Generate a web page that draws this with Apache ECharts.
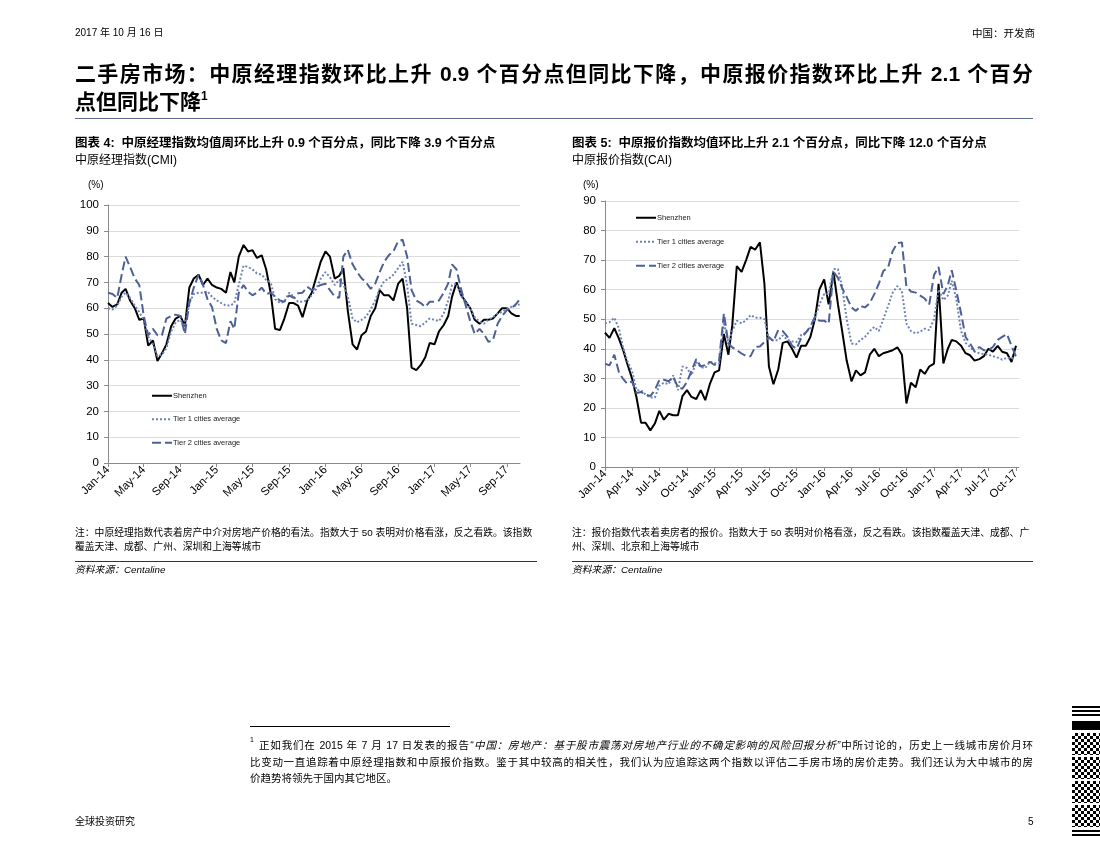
<!DOCTYPE html>
<html><head><meta charset="utf-8">
<script src="https://cdn.jsdelivr.net/npm/echarts@6/dist/echarts.min.js"></script>
<style>
body{margin:0;background:#fff;}
#page{position:relative;width:1100px;height:850px;overflow:hidden;font-family:"Liberation Sans",Arial,"Noto Sans CJK SC",sans-serif;color:#000;}
#chart{position:absolute;left:0;top:0;width:1100px;height:850px;}
.t{position:absolute;white-space:nowrap;line-height:1;}
.j{text-align:justify;text-align-last:justify;}
.b{font-weight:bold;}
.hr{position:absolute;height:1px;}
.qr{position:absolute;left:1072px;width:28px;background:repeating-conic-gradient(#000 0 25%,#fff 0 50%) 0 0/6px 6px;}
</style></head><body><div id="page">
<div id="chart"></div>

<div class="t" style="left:75px;top:28px;font-size:10px;">2017 年 10 月 16 日</div>
<div class="t" style="right:65px;top:28px;font-size:10.5px;">中国：开发商</div>

<div class="t b j" style="left:75px;top:63px;width:958px;font-size:21px;">二手房市场：中原经理指数环比上升 0.9 个百分点但同比下降，中原报价指数环比上升 2.1 个百分</div>
<div class="t b" style="left:75px;top:91px;font-size:21px;">点但同比下降<sup style="font-size:12px;vertical-align:9px;line-height:0;">1</sup></div>
<div class="hr" style="left:75px;top:118px;width:958px;background:#5c6a8c;"></div>

<div class="t b" style="left:75px;top:137px;font-size:12.5px;">图表 4:&nbsp; 中原经理指数均值周环比上升 0.9 个百分点，同比下降 3.9 个百分点</div>
<div class="t" style="left:75px;top:154px;font-size:12px;">中原经理指数(CMI)</div>
<div class="t" style="left:88px;top:180px;font-size:10px;">(%)</div>

<div class="t b" style="left:572px;top:137px;font-size:12.5px;">图表 5:&nbsp; 中原报价指数均值环比上升 2.1 个百分点，同比下降 12.0 个百分点</div>
<div class="t" style="left:572px;top:154px;font-size:12px;">中原报价指数(CAI)</div>
<div class="t" style="left:583px;top:180px;font-size:10px;">(%)</div>

<div class="t j" style="left:75px;top:528px;width:457px;font-size:9.8px;">注：中原经理指数代表着房产中介对房地产价格的看法。指数大于 50 表明对价格看涨，反之看跌。该指数</div>
<div class="t" style="left:75px;top:542px;font-size:9.8px;">覆盖天津、成都、广州、深圳和上海等城市</div>
<div class="hr" style="left:75px;top:561px;width:462px;background:#333;"></div>
<div class="t" style="left:75px;top:565px;font-size:9.8px;font-style:italic;">资料来源：Centaline</div>

<div class="t j" style="left:572px;top:528px;width:455px;font-size:9.8px;">注：报价指数代表着卖房者的报价。指数大于 50 表明对价格看涨，反之看跌。该指数覆盖天津、成都、广</div>
<div class="t" style="left:572px;top:542px;font-size:9.8px;">州、深圳、北京和上海等城市</div>
<div class="hr" style="left:572px;top:561px;width:461px;background:#333;"></div>
<div class="t" style="left:572px;top:565px;font-size:9.8px;font-style:italic;">资料来源：Centaline</div>

<div class="hr" style="left:250px;top:726px;width:200px;background:#000;"></div>
<div class="t" style="left:250px;top:736px;font-size:7px;">1</div>
<div class="t j" style="left:259px;top:740px;width:774px;font-size:10.5px;">正如我们在 2015 年 7 月 17 日发表的报告<i>“中国：房地产：基于股市震荡对房地产行业的不确定影响的风险回报分析”</i>中所讨论的，历史上一线城市房价月环</div>
<div class="t j" style="left:250px;top:757px;width:783px;font-size:10.5px;">比变动一直追踪着中原经理指数和中原报价指数。鉴于其中较高的相关性，我们认为应追踪这两个指数以评估二手房市场的房价走势。我们还认为大中城市的房</div>
<div class="t" style="left:250px;top:773px;font-size:10.5px;">价趋势将领先于国内其它地区。</div>

<div class="t" style="left:75px;top:817px;font-size:10px;">全球投资研究</div>
<div class="t" style="left:1028px;top:817px;font-size:10px;">5</div>

<div class="hr" style="left:1072px;top:706px;width:28px;height:2px;background:#000;"></div>
<div class="hr" style="left:1072px;top:710px;width:28px;height:2px;background:#000;"></div>
<div class="hr" style="left:1072px;top:714px;width:28px;height:2px;background:#000;"></div>
<div class="hr" style="left:1072px;top:721px;width:28px;height:9px;background:#000;"></div>
<div class="qr" style="top:733px;height:22px;"></div>
<div class="qr" style="top:757px;height:22px;background-position:3px 0;"></div>
<div class="qr" style="top:781px;height:22px;"></div>
<div class="qr" style="top:805px;height:22px;background-position:3px 3px;"></div>
<div class="hr" style="left:1072px;top:830px;width:28px;height:2px;background:#000;"></div>
<div class="hr" style="left:1072px;top:834px;width:28px;height:2px;background:#000;"></div>
</div>
<script>
// ---------- DATA ----------
const seriesNames = ['Shenzhen', 'Tier 1 cities average', 'Tier 2 cities average'];

// CMI (left chart): semi-monthly readings, Jan-2014 .. mid-Oct-2017
const cmiShenzhen = [62,60.5,61.5,66,67.5,63,60,55.5,56,45.5,
  47.5,39.5,42.5,46,53,56,57,53,68,71.5,
  73,69,71.5,69,68,67.5,66,74,70,80,
  84.5,82,82.5,79.5,80.5,75,66,52,51.5,56,
  62,62,61,56.5,63,66,72,78,82,80,
  71.5,72.5,75.5,59,46,44,49.5,51,57,60,
  67,65,65,63,69.5,71.5,60,37,36,38,
  41,46.5,46,51,53.5,57,64.5,70,65,62.5,
  60,55.5,54,55.5,55.5,56,58,60,60,58,
  57,57];
const cmiTier1 = [60,59.5,61,64.5,66,64,61,58.5,55.5,49,
  46,41.5,42,44.5,51,54.5,55.5,53,62,65.5,
  66,66,66.5,64.5,63,62,61,61,62,69,
  76.5,76,75,73.5,73,71,70,63.5,62,62.5,
  66,64.5,62.5,62.5,63,65,67.5,71.5,74,72,
  69,71,69.5,64.5,56,54.5,55.5,56.7,59.5,63,
  67.5,70.5,71.5,73,75.5,78,69,54,53.5,53,
  54.5,56,55.5,55,58,63,69,69.5,64.5,62.5,
  60,56.5,54.8,54,55.5,56.5,58,58.5,60,60.5,
  61,61.5];
const cmiTier2 = [66,65.5,64,73,80,76,71.5,69,57,49.5,
  52,49.5,49.5,56,57,57.5,57,50,62,68,
  73,69,63.5,60.5,52,47.5,46.5,55,52,66,
  69,66.4,65,66,68,65.5,66,64.5,63,62.5,
  65,64,65.8,66,68.3,67,68,69,69.5,67,
  64.5,64,80,82.6,77,74,71.6,70,67.5,69.5,
  74,78,80.6,82,86,86.5,80,67,63,62,
  60.5,62.5,62.5,63,66,69.6,77,75,67,61,
  55,50,52,50,47,47.5,54,57,59.3,60,
  61.5,63.4];

// CAI (right chart): semi-monthly readings, Jan-2014 .. Oct-2017
const caiShenzhen = [45.5,43.7,47,43.5,40,35,30,23.5,15,15,
  12.4,14.7,19,16,18,17.5,17.5,24,26,23.7,
  23,26,22.6,28,32,32.7,45,38,48,68,
  66,70,74.5,73.5,76,62,34,28,33,42,
  42.5,40,37,41,41,44,50,60,63.5,55,
  66,55,46,36,29,32.7,31,32,38,40,
  37.5,38.5,39,39.5,40.5,38,21.5,28.5,27,33,
  31.5,34,35,62,35,40,43,42.5,41,38.5,
  37.8,36,36.5,37.5,40,39,41,39,38.5,35.5,
  41];
const caiTier1 = [48.6,49,50.5,47,41,36,32.5,26,26,24.5,
  23.5,23.5,27.5,28.5,28,31,26,34,33.5,31,
  35.5,33.8,33.5,35.6,35.2,35,49,41.8,46,49.5,
  48.6,49.7,51.4,50.5,50.5,50,43.5,42.8,42.9,44.5,
  43,42.5,42.3,44.6,45.5,47,50.2,55,58.5,58.5,
  67,67,61,50,41.8,41.5,43,44,46,47.4,
  46,50,54.5,59,61.2,59.5,48.5,46,45.2,45.8,
  46.8,46.3,50,60,56.5,58,63,57,46,42,
  40.6,39,38.5,38.2,38,37.5,37,36.3,37,36.5,
  38];
const caiTier2 = [35,34.4,38,32.2,30,28.2,29,25,25.4,24.5,
  24,26,29.4,29.5,29,30.5,27,26.5,28.8,32.5,
  36.5,34,34.5,35.6,34.5,36,52,41.8,40.5,39.5,
  38.4,37.5,37.5,40.6,40.8,42.3,44,42.5,46.3,46,
  44,41,40,43.5,45.5,47.5,50.8,49.5,49.5,48.5,
  66,64,60.5,57.5,54,52.8,54.5,54,55.5,58.5,
  62,66.3,67.5,73,75.8,76,61,59.4,59,58,
  57,55,65,67.7,58.5,61.5,66.6,59.8,52,44,
  41.8,39.2,40.6,39.5,39.5,40.6,43,44,45,41,
  37.3];

// tick labels
const cmiTicks = ['2014-01-01','2014-05-01','2014-09-01','2015-01-01','2015-05-01','2015-09-01',
  '2016-01-01','2016-05-01','2016-09-01','2017-01-01','2017-05-01','2017-09-01'];
const caiTicks = ['2014-01-01','2014-04-01','2014-07-01','2014-10-01','2015-01-01','2015-04-01',
  '2015-07-01','2015-10-01','2016-01-01','2016-04-01','2016-07-01','2016-10-01',
  '2017-01-01','2017-04-01','2017-07-01','2017-10-01'];
const cmiYTicks = [0,10,20,30,40,50,60,70,80,90,100];
const caiYTicks = [0,10,20,30,40,50,60,70,80,90];
const monthNames = ['Jan','Feb','Mar','Apr','May','Jun','Jul','Aug','Sep','Oct','Nov','Dec'];

// observation dates (1st and 16th of each month)
const halfMonthDates = [];
for (let y = 2014; y <= 2017; y++) {
  for (let m = 1; m <= 12; m++) {
    if (y === 2017 && m > 10) break;
    const mm = String(m).padStart(2, '0');
    halfMonthDates.push(`${y}-${mm}-01`);
    if (!(y === 2017 && m === 10)) halfMonthDates.push(`${y}-${mm}-16`);
  }
}
const caiDates = halfMonthDates.slice();              // ends 2017-10-01
const cmiDates = halfMonthDates.concat(['2017-10-14']); // ends mid-Oct 2017

// ---------- CHART ----------
function ts(s){const p=s.split('-').map(Number);return Date.UTC(p[0],p[1]-1,p[2]);}
function fmt(v){const d=new Date(v);return monthNames[d.getUTCMonth()]+'-'+String(d.getUTCFullYear()).slice(2);}
const FONT = '"Liberation Sans", Arial, "Noto Sans CJK SC", sans-serif';
const AX = '#8a8a8a';
const C_T1 = '#6f84b8', C_T2 = '#4d6196';

function pairs(dates, vals){return dates.map((d,i)=>[ts(d), vals[i]]);}

function xAxis(gi, ticks, maxDate){
  const cv = ticks.map(ts);
  return {type:'value', gridIndex:gi, min:ts('2014-01-01'), max:ts(maxDate), scale:true,
    axisLine:{show:true, lineStyle:{color:AX, width:1}},
    axisTick:{show:true, customValues:cv, length:4, lineStyle:{color:AX}},
    axisLabel:{customValues:cv, formatter:fmt, rotate:45, fontSize:11.5, color:'#000', margin:5, fontFamily:FONT, hideOverlap:false, showMinLabel:true, showMaxLabel:true},
    splitLine:{show:false}, minorTick:{show:false}};
}
function yAxis(gi, ticks){
  return {type:'value', gridIndex:gi, min:ticks[0], max:ticks[ticks.length-1], interval:ticks[1]-ticks[0],
    axisLine:{show:true, lineStyle:{color:AX, width:1}},
    axisTick:{show:true, length:4, lineStyle:{color:AX}},
    axisLabel:{fontSize:11.5, color:'#000', margin:9, fontFamily:FONT},
    splitLine:{show:true, lineStyle:{color:'#dcdcdc', width:1}}};
}
function lines(gi, dates, a, b, c){
  return [
    {name:seriesNames[0], type:'line', xAxisIndex:gi, yAxisIndex:gi, data:pairs(dates,a), symbol:'none', showSymbol:false,
      lineStyle:{color:'#000', width:2}, itemStyle:{color:'#000'}},
    {name:seriesNames[1], type:'line', xAxisIndex:gi, yAxisIndex:gi, data:pairs(dates,b), symbol:'none', showSymbol:false,
      lineStyle:{color:C_T1, width:2, type:[2,2]}, itemStyle:{color:C_T1}},
    {name:seriesNames[2], type:'line', xAxisIndex:gi, yAxisIndex:gi, data:pairs(dates,c), symbol:'none', showSymbol:false,
      lineStyle:{color:C_T2, width:2, type:[9,4]}, itemStyle:{color:C_T2}}
  ];
}
function legend(left, top, gap){
  return {data:seriesNames, orient:'vertical', left:left, top:top, itemGap:gap, itemWidth:20, itemHeight:6,
    itemStyle:{opacity:0, borderWidth:0},
    textStyle:{fontSize:7.5, color:'#222', fontFamily:FONT, padding:[0,0,0,-4]}, selectedMode:false};
}

const chart = echarts.init(document.getElementById('chart'), null, {renderer:'canvas'});
chart.setOption({
  animation:false,
  grid:[
    {left:108, top:205, width:412, height:258, outerBoundsMode:'none'},
    {left:605, top:201, width:414, height:266, outerBoundsMode:'none'}
  ],
  xAxis:[xAxis(0, cmiTicks, '2017-10-15'), xAxis(1, caiTicks, '2017-10-11')],
  yAxis:[yAxis(0, cmiYTicks), yAxis(1, caiYTicks)],
  legend:[legend(146, 387, 16), legend(630, 209, 16.5)],
  series:[].concat(lines(0, cmiDates, cmiShenzhen, cmiTier1, cmiTier2),
                   lines(1, caiDates, caiShenzhen, caiTier1, caiTier2))
});
</script>
</body></html>
